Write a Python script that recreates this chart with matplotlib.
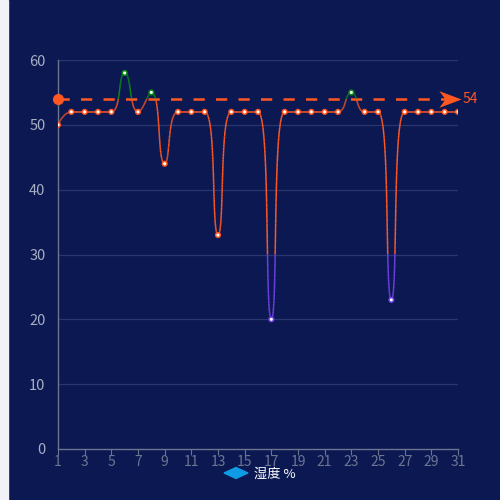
import numpy as np
import matplotlib.pyplot as plt
from matplotlib.collections import LineCollection
from matplotlib.patches import Rectangle
from matplotlib.path import Path

plt.rcParams['font.family'] = ['Noto Sans CJK SC', 'DejaVu Sans']

# data
days = list(range(1, 32))
humidity = [50, 52, 52, 52, 52, 58, 52, 55, 44, 52, 52, 52, 33, 52, 52, 52, 20,
            52, 52, 52, 52, 52, 55, 52, 52, 23, 52, 52, 52, 52, 52]
mark_value = 54
low_value = 30
x_ticks = list(range(1, 32, 2))
y_ticks = [0, 10, 20, 30, 40, 50, 60]

bg = '#0b1852'
c_high = '#0b8a14'
c_mid = '#ff5722'
c_low = '#6b3fe0'


def piece_color(v):
    if v > mark_value:
        return c_high
    if v >= low_value:
        return c_mid
    return c_low


def clamp(c, a, b):
    return np.maximum(np.minimum(c, np.maximum(a, b)), np.minimum(a, b))


# echarts style smooth curve, computed in pixel units
sx, sy = 400 / 30, 389 / 60
P = np.array([[d * sx, v * sy] for d, v in zip(days, humidity)])
smooth = 0.5
n = len(P)
cp_in = [p.copy() for p in P]
cp_out = [p.copy() for p in P]
for i in range(1, n - 1):
    prev, cur, nxt = P[i - 1], P[i], P[i + 1]
    v = nxt - prev
    l0 = np.linalg.norm(cur - prev)
    l1 = np.linalg.norm(nxt - cur)
    r = l1 / (l0 + l1)
    c1 = clamp(cur + v * smooth * r, nxt, cur)
    c0 = clamp(cur - (c1 - cur) * l0 / l1, prev, cur)
    c1 = cur + (cur - c0) * l1 / l0
    cp_in[i], cp_out[i] = c0, c1

curve = []
t = np.linspace(0, 1, 60)[:, None]
for i in range(n - 1):
    p0, c1, c2, p1 = P[i], cp_out[i], cp_in[i + 1], P[i + 1]
    seg = ((1 - t) ** 3 * p0 + 3 * (1 - t) ** 2 * t * c1
           + 3 * (1 - t) * t ** 2 * c2 + t ** 3 * p1)
    curve.append(seg if i == 0 else seg[1:])
curve = np.vstack(curve)
cx, cy = curve[:, 0] / sx, curve[:, 1] / sy

fig = plt.figure(figsize=(5, 5), dpi=100, facecolor=bg)
fig.patches.append(Rectangle((0, 0), 8 / 500, 1, transform=fig.transFigure,
                             color='#f0f2f7', zorder=0))
ax = fig.add_axes([58 / 500, 51 / 500, 400 / 500, 389 / 500])
ax.set_facecolor(bg)
ax.set_xlim(1, 31)
ax.set_ylim(0, 60)

for yv in y_ticks[1:]:
    ax.axhline(yv, color='#2a3670', lw=0.9, zorder=1)

segs = np.stack([np.column_stack([cx[:-1], cy[:-1]]),
                 np.column_stack([cx[1:], cy[1:]])], axis=1)
mid = (cy[:-1] + cy[1:]) / 2
cols = [piece_color(v) for v in mid]
ax.add_collection(LineCollection(segs, colors=cols, linewidths=1.1, zorder=3))

ax.scatter(days, humidity, s=11, facecolor='white',
           edgecolor=[piece_color(v) for v in humidity], linewidths=1.1, zorder=4)

# mark line
arrow = Path([(1, 0), (-1, 0.75), (-0.45, 0), (-1, -0.75), (1, 0)],
             [Path.MOVETO, Path.LINETO, Path.LINETO, Path.LINETO, Path.CLOSEPOLY])
ax.plot([1, 30.3], [mark_value, mark_value], color=c_mid, lw=1.8,
        dashes=(4.5, 4.5), zorder=2, clip_on=False)
ax.plot([1], [mark_value], 'o', color=c_mid, ms=7, clip_on=False, zorder=5)
ax.plot([30.4], [mark_value], marker=arrow, color=c_mid, ms=16, clip_on=False,
        zorder=5, markeredgewidth=0)
ax.text(31.35, mark_value, str(mark_value), color=c_mid, fontsize=10,
        va='center', ha='left')

for s in ['top', 'right']:
    ax.spines[s].set_visible(False)
for s in ['left', 'bottom']:
    ax.spines[s].set_color('#6e7591')
    ax.spines[s].set_linewidth(1)

ax.set_xticks(x_ticks)
ax.set_yticks(y_ticks)
ax.tick_params(axis='x', colors='#6e7591', labelsize=10, length=4, pad=0)
ax.tick_params(axis='y', colors='#a8aec4', labelsize=10.5, length=0, pad=9)

# legend
ly = 27 / 500
fig.patches.append(plt.Polygon([[224 / 500, ly], [236 / 500, ly + 5.5 / 500],
                                [248 / 500, ly], [236 / 500, ly - 5.5 / 500]],
                               closed=True, color='#0e9be3', transform=fig.transFigure))
fig.text(254 / 500, 22.5 / 500, '湿度 %', color='white', fontsize=9.5,
         va='baseline', ha='left')

fig.savefig('out.png', dpi=100, facecolor=bg)
